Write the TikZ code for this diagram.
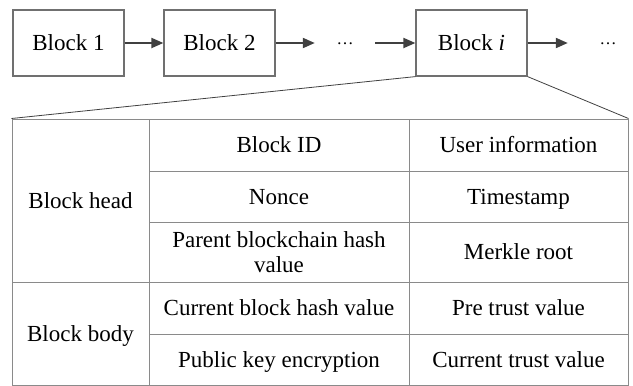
\documentclass[tikz,border=0pt]{standalone}
\usepackage{fontspec}
\setmainfont{Liberation Serif}
\usepackage{xcolor}
\usepackage{tikz}
\usetikzlibrary{positioning,shapes,arrows.meta}

\definecolor{edgegray}{HTML}{707070}
\definecolor{linegray}{HTML}{8A8A8A}
\definecolor{arrowgray}{HTML}{404040}

\tikzset{
  blockbox/.style={draw=edgegray, line width=1.2pt, rectangle, minimum width=111pt, minimum height=66pt, inner sep=0pt, text height=16pt, text depth=1pt},
  cellbox/.style={draw=linegray, line width=1pt, rectangle, inner sep=0pt, text height=16pt, text depth=1pt},
  twolines/.style={align=center, text height=, text depth=},
  dotsbox/.style={inner sep=0pt, text height=2pt, text depth=0pt, font=\fontsize{17}{17}\selectfont},
  chainarrow/.style={draw=arrowgray, line width=2pt, -{Triangle[length=12pt,width=10pt]}},
  zoomline/.style={draw=arrowgray, line width=0.8pt}
}

\begin{document}
\begin{tikzpicture}[x=1pt, y=-1pt, every node/.style={font=\fontsize{23}{25}\selectfont}]
\useasboundingbox (0,0) rectangle (633,386);

% Chain of blocks
\node[blockbox] (block1) at (68.5,43) {Block 1};
\node[blockbox] (block2) at (219.5,43) {Block 2};
\node[dotsbox, minimum width=60pt] (dotsa) at (345,43) {…};
\node[blockbox] (blocki) at (471.5,43) {Block \textit{i}};
\node[dotsbox, minimum width=80pt] (dotsb) at (608,43) {…};

% Arrows
\draw[chainarrow] (block1) -- (block2);
\draw[chainarrow] (block2) -- (dotsa);
\draw[chainarrow] (dotsa) -- (blocki);
\draw[chainarrow] (blocki) -- (dotsb.west);

% Block structure table
\node[cellbox, minimum width=137pt, minimum height=163pt] (head) at (80.5,200.5) {Block head};
\node[cellbox, minimum width=137pt, minimum height=103pt] (body) at (80.5,333.5) {Block body};

\node[cellbox, minimum width=260pt, minimum height=52pt] (blockid) at (279,145) {Block ID};
\node[cellbox, minimum width=219pt, minimum height=52pt] (userinfo) at (518.5,145) {User information};
\node[cellbox, minimum width=260pt, minimum height=51pt] (nonce) at (279,196.5) {Nonce};
\node[cellbox, minimum width=219pt, minimum height=51pt] (timestamp) at (518.5,196.5) {Timestamp};
\node[cellbox, twolines, minimum width=260pt, minimum height=60pt] (parent) at (279,252) {Parent blockchain hash\\value};
\node[cellbox, minimum width=219pt, minimum height=60pt] (merkle) at (518.5,252) {Merkle root};

\node[cellbox, minimum width=260pt, minimum height=52pt] (curhash) at (279,308) {Current block hash value};
\node[cellbox, minimum width=219pt, minimum height=52pt] (pretrust) at (518.5,308) {Pre trust value};
\node[cellbox, minimum width=260pt, minimum height=51pt] (pubkey) at (279,359.5) {Public key encryption};
\node[cellbox, minimum width=219pt, minimum height=51pt] (curtrust) at (518.5,359.5) {Current trust value};

% Zoom lines from block i to the table
\draw[zoomline] (blocki.south west) -- (head.north west);
\draw[zoomline] (blocki.south east) -- (userinfo.north east);
\end{tikzpicture}
\end{document}
